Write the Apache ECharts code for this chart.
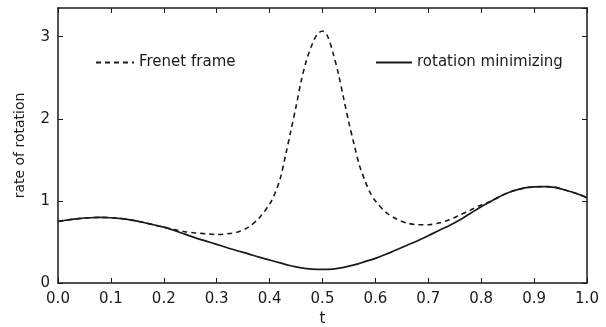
<!DOCTYPE html>
<html>
<head>
<meta charset="utf-8">
<script src="https://cdn.jsdelivr.net/npm/echarts@6/dist/echarts.min.js"></script>
<style>html,body{margin:0;padding:0;background:#fff;}#c{width:606px;height:327px;}</style>
</head>
<body>
<div id="c"></div>
<script>
// t samples for rotation-minimizing curve
var tRM = [0,0.02,0.04,0.06,0.08,0.10,0.12,0.14,0.16,0.18,0.20,0.22,0.24,0.26,0.28,0.30,0.32,0.34,0.36,0.38,0.40,0.42,0.44,0.46,0.48,0.50,0.52,0.54,0.56,0.58,0.60,0.62,0.64,0.66,0.68,0.70,0.72,0.74,0.76,0.78,0.80,0.82,0.84,0.86,0.88,0.90,0.92,0.94,0.96,0.98,1.00];
var rotationMinimizing = [0.75,0.77,0.785,0.795,0.80,0.795,0.785,0.765,0.74,0.71,0.68,0.64,0.595,0.55,0.51,0.47,0.43,0.39,0.355,0.315,0.28,0.245,0.21,0.185,0.17,0.165,0.17,0.19,0.22,0.26,0.30,0.35,0.405,0.46,0.515,0.575,0.64,0.70,0.77,0.85,0.93,1.00,1.07,1.12,1.155,1.17,1.175,1.165,1.13,1.09,1.04];
// t samples for Frenet frame curve
var tFrenet = [0,0.02,0.04,0.06,0.08,0.10,0.12,0.14,0.16,0.18,0.20,0.22,0.24,0.26,0.28,0.30,0.32,0.34,0.36,0.38,0.40,0.41,0.42,0.43,0.44,0.45,0.46,0.47,0.48,0.49,0.50,0.51,0.52,0.53,0.54,0.55,0.56,0.57,0.58,0.59,0.60,0.62,0.64,0.66,0.68,0.70,0.72,0.74,0.76,0.78,0.80,0.82,0.84,0.86,0.88,0.90,0.92,0.94,0.96,0.98,1.00];
var frenet = [0.75,0.77,0.785,0.795,0.80,0.795,0.785,0.765,0.74,0.71,0.68,0.65,0.625,0.61,0.60,0.59,0.60,0.62,0.68,0.79,0.96,1.09,1.27,1.55,1.85,2.15,2.47,2.72,2.90,3.03,3.07,3.00,2.80,2.55,2.25,1.95,1.68,1.43,1.25,1.10,1.00,0.86,0.78,0.73,0.71,0.71,0.73,0.77,0.83,0.89,0.95,1.00,1.07,1.12,1.155,1.17,1.175,1.165,1.13,1.09,1.04];
var xTicks = {min:0, max:1, interval:0.1};
var yTicks = {min:0, max:3.35, interval:1};

function pairs(xs, ys){ return xs.map(function(x,i){ return [x, ys[i]]; }); }

var ink = '#1a1a1a';
var font = 'DejaVu Sans, sans-serif';
var tickStyle = {show:true, inside:true, length:5, lineStyle:{color:ink, width:1}};
var lineStyleAxis = {show:true, onZero:false, lineStyle:{color:ink, width:1.5}};
var legendCommon = {top:50, itemHeight:14, itemGap:8,
  itemStyle:{color:'rgba(0,0,0,0)', borderWidth:0},
  textStyle:{color:ink, fontSize:15, fontFamily:font}};
var chart = echarts.init(document.getElementById('c'), null, {renderer:'canvas'});
chart.setOption({
  animation:false,
  backgroundColor:'#ffffff',
  grid:{left:58, right:19, top:8, bottom:44, containLabel:false, outerBoundsMode:'none'},
  legend:[
    Object.assign({data:['Frenet frame'], left:90, itemWidth:38}, legendCommon),
    Object.assign({data:['rotation minimizing'], left:370, itemWidth:36}, legendCommon)
  ],
  xAxis:[
    {type:'value', min:xTicks.min, max:xTicks.max, interval:xTicks.interval,
     name:'t', nameLocation:'middle', nameGap:27,
     nameTextStyle:{color:ink, fontSize:15, fontFamily:font},
     axisLine:lineStyleAxis, axisTick:tickStyle,
     axisLabel:{color:ink, fontSize:15, fontFamily:font, margin:9, formatter:function(v){return v.toFixed(1);}},
     splitLine:{show:false}},
    {type:'value', position:'top', min:xTicks.min, max:xTicks.max, interval:xTicks.interval,
     axisLine:lineStyleAxis, axisTick:tickStyle,
     axisLabel:{show:false}, splitLine:{show:false}}
  ],
  yAxis:[
    {type:'value', min:yTicks.min, max:yTicks.max, interval:yTicks.interval,
     name:'rate of rotation', nameLocation:'middle', nameGap:31,
     nameTextStyle:{color:ink, fontSize:14, fontFamily:font},
     axisLine:lineStyleAxis, axisTick:tickStyle,
     axisLabel:{color:ink, fontSize:15, fontFamily:font, margin:8, showMaxLabel:false,
       formatter:function(v){return Math.abs(v-Math.round(v))<1e-9 ? String(Math.round(v)) : '';}},
     splitLine:{show:false}},
    {type:'value', position:'right', min:yTicks.min, max:yTicks.max, interval:yTicks.interval,
     axisLine:lineStyleAxis, axisTick:tickStyle,
     axisLabel:{show:false}, splitLine:{show:false}}
  ],
  series:[
    {name:'Frenet frame', type:'line', data:pairs(tFrenet, frenet), smooth:0.3, symbol:'none',
     color:ink, lineStyle:{color:ink, width:1.6, type:[5,4]}, z:2},
    {name:'rotation minimizing', type:'line', data:pairs(tRM, rotationMinimizing), smooth:0.3, symbol:'none',
     color:ink, lineStyle:{color:ink, width:1.7, type:'solid'}, z:3}
  ]
});
</script>
</body>
</html>
